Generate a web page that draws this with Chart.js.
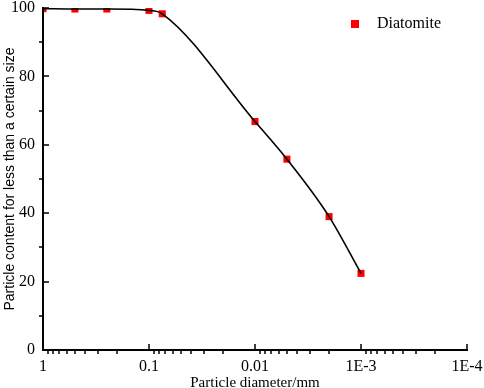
<!DOCTYPE html>
<html lang="en">
<head>
  <meta charset="UTF-8">
  <title>Particle size distribution - Diatomite</title>
  <script src="https://cdn.jsdelivr.net/npm/chart.js"></script>
  <style>
    body { margin: 0; background: #ffffff; }
    .wrap { width: 484px; height: 388px; position: relative; }
  </style>
</head>
<body>
  <div class="wrap"><canvas id="psdChart"></canvas></div>

  <script>
    // particle diameter (mm) and cumulative content (%)
    const diameters = [1, 0.5, 0.25, 0.1, 0.075, 0.01, 0.005, 0.002, 0.001];
    const content = [99.8, 99.7, 99.7, 99.3, 98.3, 66.8, 55.8, 39.0, 22.4];

    const xTickValues = [1, 0.1, 0.01, 0.001, 0.0001];
    const xTickLabels = ['1', '0.1', '0.01', '1E-3', '1E-4'];
    const yTickValues = [0, 20, 40, 60, 80, 100];

    const points = diameters.map((d, i) => ({ x: d, y: content[i] }));

    // origin-style axes: major ticks inside, minor ticks outside, plus legend
    const axesPlugin = {
      id: 'axesPlugin',
      afterDatasetsDraw(chart) {
        const { ctx, chartArea: a, scales } = chart;
        const xs = scales.x, ys = scales.y;
        ctx.save();
        ctx.strokeStyle = '#000';
        ctx.lineWidth = 2;
        ctx.beginPath();
        ctx.moveTo(a.left, a.top - 1);
        ctx.lineTo(a.left, a.bottom + 1);
        ctx.moveTo(a.left - 1, a.bottom);
        ctx.lineTo(a.right + 1, a.bottom);
        ctx.stroke();

        ctx.lineWidth = 1.5;
        ctx.beginPath();
        xTickValues.forEach(v => {
          const px = Math.round(xs.getPixelForValue(v));
          ctx.moveTo(px, a.bottom);
          ctx.lineTo(px, a.bottom - 6);
        });
        for (let k = -4; k < 0; k++) {
          for (let m = 2; m <= 9; m++) {
            const px = Math.round(xs.getPixelForValue(m * Math.pow(10, k)));
            ctx.moveTo(px, a.bottom);
            ctx.lineTo(px, a.bottom + 4);
          }
        }
        yTickValues.forEach(v => {
          const py = Math.round(ys.getPixelForValue(v));
          ctx.moveTo(a.left, py);
          ctx.lineTo(a.left + 6, py);
        });
        for (let v = 10; v < 100; v += 20) {
          const py = Math.round(ys.getPixelForValue(v));
          ctx.moveTo(a.left, py);
          ctx.lineTo(a.left - 4, py);
        }
        ctx.stroke();

        // legend
        ctx.fillStyle = 'red';
        ctx.fillRect(351, 20, 8, 8);
        ctx.fillStyle = '#000';
        ctx.font = '16px "Liberation Serif"';
        ctx.textBaseline = 'middle';
        ctx.fillText(chart.data.datasets[1].label, 377, 24);
        ctx.restore();
      }
    };

    const ctx = document.getElementById('psdChart').getContext('2d');
    new Chart(ctx, {
      type: 'scatter',
      data: {
        datasets: [
          {
            label: 'fit',
            data: points,
            showLine: true,
            borderColor: '#000',
            borderWidth: 1.6,
            pointRadius: 0,
            cubicInterpolationMode: 'monotone',
            order: 0
          },
          {
            label: 'Diatomite',
            data: points,
            showLine: false,
            pointStyle: 'rect',
            pointRadius: 5,
            borderWidth: 0,
            backgroundColor: 'red',
            clip: 0,
            order: 1
          }
        ]
      },
      options: {
        responsive: true,
        maintainAspectRatio: false,
        animation: false,
        layout: { padding: 0 },
        plugins: {
          legend: { display: false },
          tooltip: { enabled: false }
        },
        scales: {
          x: {
            type: 'logarithmic',
            reverse: true,
            min: 0.0001,
            max: 1,
            grid: { display: false, drawTicks: false },
            border: { display: false },
            afterBuildTicks: s => { s.ticks = xTickValues.map(v => ({ value: v })); },
            afterFit: s => { s.height = 38; s.paddingLeft = 0; s.paddingRight = 17; },
            ticks: {
              autoSkip: false,
              maxRotation: 0,
              padding: 7,
              color: '#000',
              font: { family: 'Liberation Serif', size: 16 },
              callback: (v, i) => xTickLabels[i]
            },
            title: {
              display: true,
              text: 'Particle diameter/mm',
              color: '#000',
              font: { family: 'Liberation Serif', size: 15 },
              padding: { top: 0, bottom: -4 }
            }
          },
          y: {
            min: 0,
            max: 100,
            grid: { display: false, drawTicks: false },
            border: { display: false },
            afterFit: s => { s.width = 43; s.paddingTop = 8; s.paddingBottom = 0; },
            ticks: {
              stepSize: 20,
              padding: 8,
              color: '#000',
              font: { family: 'Liberation Serif', size: 16 }
            },
            title: {
              display: true,
              text: 'Particle content for less than a certain size',
              color: '#000',
              font: { family: 'Liberation Sans', size: 14 },
              padding: { top: 2, bottom: 0 }
            }
          }
        }
      },
      plugins: [axesPlugin]
    });
  </script>
</body>
</html>
